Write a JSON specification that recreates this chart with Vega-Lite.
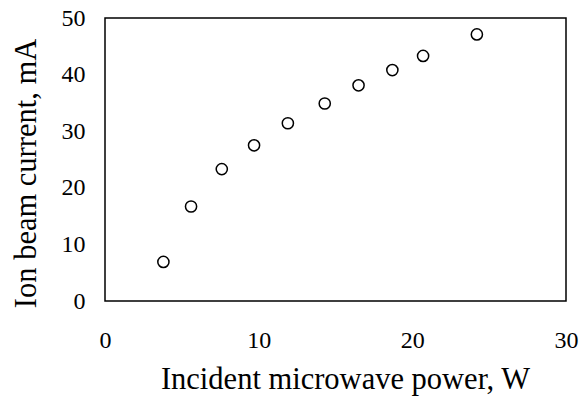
{
  "$schema": "https://vega.github.io/schema/vega-lite/v6.json",
  "autosize": "none",
  "width": 461,
  "height": 283,
  "padding": {"left": 105, "top": 18, "right": 13, "bottom": 95},
  "background": "white",
  "data": {
    "values": [
      {"power": 3.8, "current": 6.9},
      {"power": 5.6, "current": 16.7},
      {"power": 7.6, "current": 23.3},
      {"power": 9.7, "current": 27.5},
      {"power": 11.9, "current": 31.4},
      {"power": 14.3, "current": 34.9},
      {"power": 16.5, "current": 38.1},
      {"power": 18.7, "current": 40.8},
      {"power": 20.7, "current": 43.3},
      {"power": 24.2, "current": 47.1}
    ]
  },
  "config": {
    "view": {"stroke": "black", "strokeWidth": 1.5},
    "font": "Liberation Serif",
    "axis": {
      "grid": false,
      "ticks": false,
      "domain": false,
      "labelFlush": false,
      "labelOverlap": false,
      "labelFont": "Liberation Serif",
      "titleFont": "Liberation Serif",
      "labelFontSize": 24,
      "titleFontSize": 30.5,
      "labelColor": "black",
      "titleColor": "black",
      "titleFontWeight": "normal"
    }
  },
  "mark": {"type": "point", "shape": "circle", "filled": false, "stroke": "black", "strokeWidth": 1.5, "size": 125, "opacity": 1},
  "encoding": {
    "x": {
      "field": "power", "type": "quantitative",
      "scale": {"domain": [0, 30], "nice": false},
      "axis": {"values": [0, 10, 20, 30], "labelPadding": 27, "title": "Incident microwave power, W",
               "titleX": 240, "titleY": 87, "titleAlign": "center", "titleBaseline": "alphabetic"}
    },
    "y": {
      "field": "current", "type": "quantitative",
      "scale": {"domain": [0, 50], "nice": false},
      "axis": {"values": [0, 10, 20, 30, 40, 50], "labelPadding": 20, "title": "Ion beam current, mA",
               "titleX": -70, "titleY": 155, "titleAngle": -90, "titleAlign": "center", "titleBaseline": "alphabetic"}
    }
  }
}
